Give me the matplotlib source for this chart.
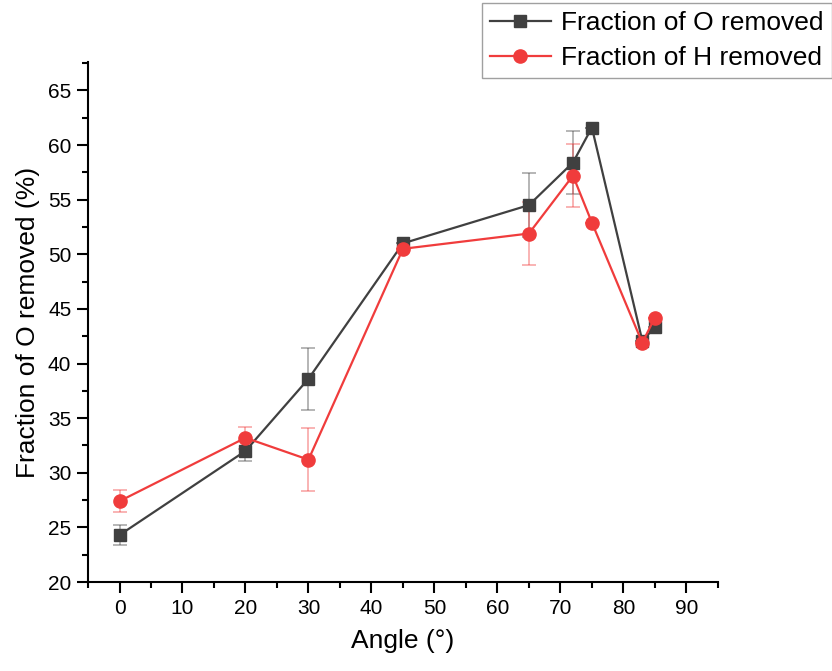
import matplotlib
matplotlib.use("Agg")
import matplotlib.pyplot as plt
from matplotlib.ticker import MultipleLocator

angles = [0, 20, 30, 45, 65, 72, 75, 83, 85]
frac_O = [24.3, 32.0, 38.6, 51.0, 54.5, 58.4, 61.6, 42.1, 43.3]
err_O = [0.9, 0.9, 2.85, 0.0, 2.9, 2.9, 0.0, 0.0, 0.0]
frac_H = [27.4, 33.2, 31.2, 50.5, 51.9, 57.2, 52.9, 41.9, 44.2]
err_H = [1.0, 1.0, 2.9, 0.0, 2.9, 2.9, 0.0, 0.0, 0.0]

plt.rcParams['font.family'] = ['Liberation Sans', 'DejaVu Sans']

fig = plt.figure(figsize=(8.32, 6.71), dpi=100)
ax = fig.add_axes([0.1058, 0.1326, 0.757, 0.775])

cO = '#404040'
cH = '#f03c3c'

ax.errorbar(angles, frac_O, yerr=err_O, fmt='none', ecolor=cO, alpha=0.45,
            capsize=5, elinewidth=1.2, capthick=1.2, zorder=2)
ax.errorbar(angles, frac_H, yerr=err_H, fmt='none', ecolor=cH, alpha=0.45,
            capsize=5, elinewidth=1.2, capthick=1.2, zorder=2)
lO, = ax.plot(angles, frac_O, color=cO, marker='s', markersize=8.5, lw=1.6,
              label='Fraction of O removed', zorder=3)
lH, = ax.plot(angles, frac_H, color=cH, marker='o', markersize=9.5, lw=1.6,
              label='Fraction of H removed', zorder=4)

ax.set_xlim(-5, 95)
ax.set_ylim(20, 67.6)
ax.xaxis.set_major_locator(MultipleLocator(10))
ax.xaxis.set_minor_locator(MultipleLocator(5))
ax.yaxis.set_major_locator(MultipleLocator(5))
ax.yaxis.set_minor_locator(MultipleLocator(2.5))
ax.spines['top'].set_visible(False)
ax.spines['right'].set_visible(False)
for s in ['left', 'bottom']:
    ax.spines[s].set_linewidth(1.5)
ax.tick_params(which='major', direction='out', length=8, width=1.5, labelsize=15, pad=4)
ax.tick_params(which='minor', direction='out', length=4, width=1.5)
ax.set_xlabel('Angle (°)', fontsize=19, labelpad=8)
ax.set_ylabel('Fraction of O removed (%)', fontsize=19, labelpad=6)

fig.legend(handles=[lO, lH], loc='upper right', bbox_to_anchor=(0.9995, 0.995),
           fontsize=19, frameon=True, fancybox=False, edgecolor='#888888',
           handlelength=2.3, borderpad=0.3, labelspacing=0.42, handletextpad=0.4,
           borderaxespad=0)

fig.savefig('out.png', dpi=100)
